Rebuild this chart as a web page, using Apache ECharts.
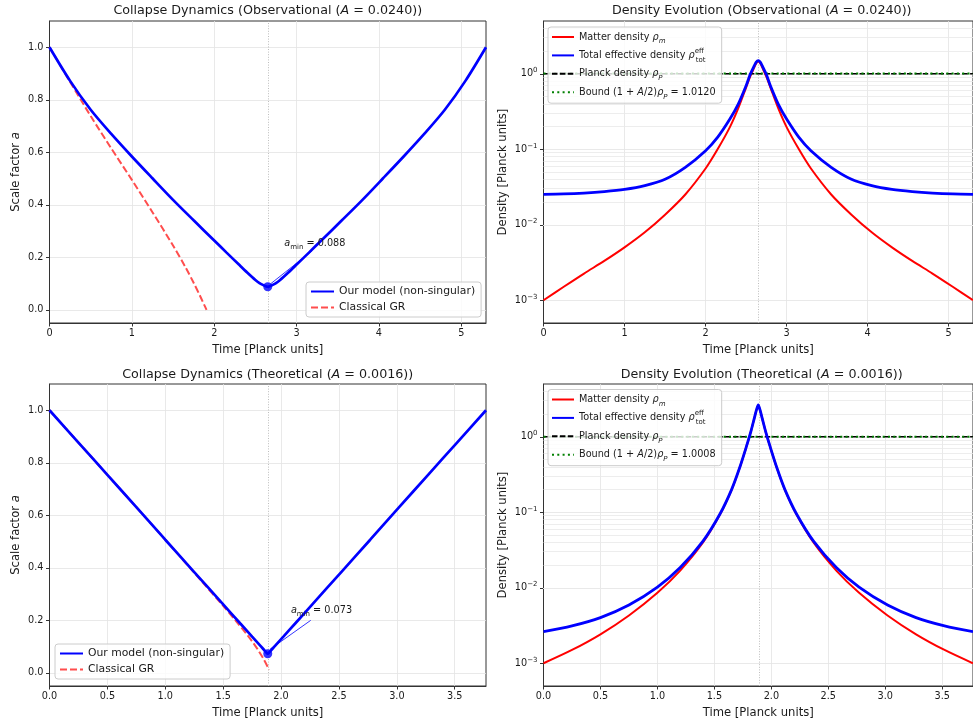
<!DOCTYPE html>
<html><head><meta charset="utf-8">
<script src="https://cdn.jsdelivr.net/npm/echarts@6/dist/echarts.min.js"></script>
<style>html,body{margin:0;padding:0;background:#fff}#c{width:973px;height:723px}</style>
</head><body><div id="c"></div>
<script>
// ---------------- data ----------------
const ATop = 0.0240, ABot = 0.0016;
const tbTop = 2.65, aMinTop = 0.088;
const tbBot = 1.885, aMinBot = 0.073;
const xMaxTop = 5.3, xMaxBot = 3.77;
const rhoP = 1.0;

const tTop = [0,0.25,0.5,0.75,1.0,1.25,1.5,1.75,2.0,2.15,2.3,2.4,2.5,2.55,2.6,2.625,2.65,2.675,2.7,2.75,2.8,2.9,3.0,3.15,3.3,3.55,3.8,4.05,4.3,4.55,4.8,5.05,5.3];
const aTop = [1.000,0.872,0.762,0.670,0.584,0.501,0.419,0.341,0.264,0.218,0.1725,0.1425,0.114,0.102,0.0935,0.0898,0.088,0.0898,0.0935,0.102,0.114,0.1425,0.1725,0.218,0.264,0.341,0.419,0.501,0.584,0.670,0.762,0.872,1.000];
const tGRTop = [0,0.25,0.5,0.75,1.0,1.25,1.5,1.65,1.75,1.83,1.88,1.907];
const aGRTop = [1.0,0.868,0.738,0.615,0.495,0.372,0.245,0.163,0.103,0.052,0.018,0.0];
const rhoMTop = [0.00100,0.00151,0.00226,0.00332,0.00502,0.00795,0.0136,0.0252,0.0556,0.1006,0.1965,0.342,0.657,0.915,1.204,1.372,1.45,1.372,1.204,0.915,0.657,0.342,0.1965,0.1006,0.0556,0.0252,0.0136,0.00795,0.00502,0.00332,0.00226,0.00151,0.00100];
const rhoEffTop = [0.0253,0.0256,0.0263,0.0275,0.0294,0.0330,0.0400,0.0575,0.0955,0.1445,0.251,0.389,0.692,0.977,1.27,1.43,1.49,1.43,1.27,0.977,0.692,0.389,0.251,0.1445,0.0955,0.0575,0.0400,0.0330,0.0294,0.0275,0.0263,0.0256,0.0253];

const tBot = [0,0.25,0.5,0.75,1.0,1.25,1.5,1.65,1.75,1.82,1.85,1.87,1.885,1.9,1.92,1.95,2.02,2.12,2.27,2.52,2.77,3.02,3.27,3.52,3.77];
const aBot = [1.0,0.877,0.754,0.631,0.507,0.384,0.261,0.187,0.138,0.104,0.089,0.079,0.0736,0.079,0.089,0.104,0.138,0.187,0.261,0.384,0.507,0.631,0.754,0.877,1.0];
const tGRBot = [0,0.5,1.0,1.3,1.5,1.6,1.7,1.75,1.8,1.85,1.897];
const aGRBot = [1.0,0.754,0.507,0.356,0.255,0.203,0.149,0.12,0.088,0.052,0.012];
const tBotD = [0,0.25,0.5,0.75,1.0,1.2,1.4,1.55,1.65,1.72,1.78,1.82,1.85,1.87,1.885,1.9,1.92,1.95,1.99,2.05,2.12,2.22,2.37,2.57,2.77,3.02,3.27,3.52,3.77];
const rhoMBot = [0.00100,0.00150,0.00242,0.0043,0.0086,0.0169,0.0398,0.0939,0.1965,0.380,0.731,1.166,1.75,2.28,2.60,2.28,1.75,1.166,0.731,0.380,0.1965,0.0939,0.0398,0.0169,0.0086,0.0043,0.00242,0.00150,0.00100];
const rhoEffBot = [0.00262,0.00312,0.00402,0.0059,0.0102,0.0185,0.0414,0.0955,0.198,0.382,0.733,1.17,1.75,2.29,2.65,2.29,1.75,1.17,0.733,0.382,0.198,0.0955,0.0414,0.0185,0.0102,0.0059,0.00402,0.00312,0.00262];

const xTicksTop = [0,1,2,3,4,5];
const xTicksBot = [0,0.5,1.0,1.5,2.0,2.5,3.0,3.5];
const yTicksA = [0,0.2,0.4,0.6,0.8,1.0];
const yTicksRho = [0.001,0.01,0.1,1];

const annTop = {text:[2.85,0.238], from:[3.19,0.225], to:[2.68,0.098]};
const annBot = {text:[2.085,0.223], from:[2.256,0.2], to:[1.905,0.09]};

// ---------------- styling / build ----------------
const FONT = 'DejaVu Sans';
const C = '#1a1a1a';
const zip = (xs, ys) => xs.map((x, i) => [x, ys[i]]);
const gridLine = {show:true, lineStyle:{color:'#e3e3e3', width:0.8}};
const spine = {show:true, onZero:false, lineStyle:{color:'#333', width:1}};
const SM = 0.3;

// minor log gridlines
const minorVals = [];
for (let e = -4; e <= 0; e++) for (let k = 2; k <= 9; k++) {
  const v = k * Math.pow(10, e);
  if (v > 0.0005 && v < 5) minorVals.push(v);
}

function xAx(gi, max, ticks, fmt) {
  return {type:'value', gridIndex:gi, min:0, max:max, interval:ticks[1]-ticks[0],
    name:'Time [Planck units]', nameLocation:'middle', nameGap:21,
    nameTextStyle:{fontFamily:FONT, fontSize:11.6, color:C},
    axisLine:spine,
    axisTick:{show:true, inside:false, length:3.5, lineStyle:{color:'#333'}, customValues:ticks},
    axisLabel:{show:true, customValues:ticks, formatter:fmt, fontFamily:FONT, fontSize:9.7, color:C, margin:5},
    splitLine:gridLine};
}
function yAxA(gi) {
  return {type:'value', gridIndex:gi, min:-0.05, max:1.1,
    name:'Scale factor {i|a}', nameLocation:'middle', nameGap:28,
    nameTextStyle:{fontFamily:FONT, fontSize:11.6, color:C, rich:{i:{fontFamily:FONT, fontSize:11.6, fontStyle:'italic', color:C}}},
    axisLine:spine,
    axisTick:{show:true, inside:false, length:3.5, lineStyle:{color:'#333'}, customValues:yTicksA},
    axisLabel:{show:true, customValues:yTicksA, formatter:v => v.toFixed(1), fontFamily:FONT, fontSize:9.7, color:C, margin:6},
    splitLine:gridLine};
}
function yAxR(gi) {
  return {type:'log', logBase:10, gridIndex:gi, min:0.0005, max:5,
    name:'Density [Planck units]', nameLocation:'middle', nameGap:35,
    nameTextStyle:{fontFamily:FONT, fontSize:11.6, color:C},
    axisLine:spine,
    axisTick:{show:true, inside:false, length:3.5, lineStyle:{color:'#333'}, customValues:yTicksRho},
    axisLabel:{show:true, customValues:yTicksRho, fontFamily:FONT, fontSize:9.7, color:C, margin:6, lineHeight:14,
      formatter:v => { const e = Math.round(Math.log10(v)); return '10{s|' + (e < 0 ? '\u2212' + (-e) : e) + '}'; },
      rich:{s:{fontFamily:FONT, fontSize:7, lineHeight:8, verticalAlign:'top', color:C}}},
    splitLine:gridLine};
}

const titleRich = {i:{fontFamily:FONT, fontSize:12.7, fontStyle:'italic', color:C}};
function title(text, cx, top) {
  return {text:text, left:cx - 5, top:top, textAlign:'center',
    textStyle:{fontFamily:FONT, fontSize:12.7, fontWeight:'normal', color:C, rich:titleRich}};
}

const legRich = {
  i:{fontFamily:FONT, fontSize:9.7, fontStyle:'italic', color:C, lineHeight:16},
  isub:{fontFamily:FONT, fontSize:7, fontStyle:'italic', color:C, lineHeight:8, verticalAlign:'bottom'},
  sup:{fontFamily:FONT, fontSize:7, color:C, lineHeight:8, verticalAlign:'top', width:1},
  sub:{fontFamily:FONT, fontSize:7, color:C, lineHeight:8, verticalAlign:'bottom'}
};
const legNames = {
  'Matter density':'Matter density {i|\u03c1}{isub|m}',
  'Total effective density':'Total effective density {i|\u03c1}{sup|eff}{sub|tot}',
  'Planck density':'Planck density {i|\u03c1}{isub|P}',
  'BoundTop':'Bound (1 + {i|A}/2){i|\u03c1}{isub|P} = ' + (1 + ATop/2).toFixed(4),
  'BoundBot':'Bound (1 + {i|A}/2){i|\u03c1}{isub|P} = ' + (1 + ABot/2).toFixed(4)
};
const noSym = {opacity:0, color:'rgba(0,0,0,0)', borderWidth:0};
function legA(left, top) {
  return {data:['Our model (non-singular)','Classical GR'], orient:'vertical', left:left, top:top,
    itemWidth:23, itemHeight:10, itemGap:3, padding:[3,6,3,4], selectedMode:false,
    itemStyle:noSym,
    backgroundColor:'rgba(255,255,255,0.8)', borderColor:'#cccccc', borderWidth:1, borderRadius:3,
    textStyle:{fontFamily:FONT, fontSize:10.8, color:C, lineHeight:13}};
}
function legR(left, top, bound) {
  return {data:['Matter density','Total effective density','Planck density',bound], orient:'vertical', left:left, top:top,
    itemWidth:22, itemHeight:10, itemGap:2.4, padding:[2,6,3,3], selectedMode:false,
    itemStyle:noSym,
    backgroundColor:'rgba(255,255,255,0.8)', borderColor:'#cccccc', borderWidth:1, borderRadius:3,
    formatter:n => legNames[n],
    textStyle:{fontFamily:FONT, fontSize:9.7, color:C, lineHeight:16, rich:legRich}};
}

function vline(tb) {
  return {silent:true, symbol:['none','none'], z:1, label:{show:false},
    lineStyle:{color:'#bdbdbd', width:1, type:[1,1.6]}, data:[{xAxis:tb}]};
}
function minorLines() {
  return {silent:true, symbol:['none','none'], z:1, label:{show:false}, animation:false,
    lineStyle:{color:'#e8e8e8', width:0.8, type:'solid'}, data:minorVals.map(v => ({yAxis:v}))};
}
function annotation(ann, aMin) {
  return {
    markPoint:{silent:true, symbol:'circle', symbolSize:0, z:6,
      data:[{coord:ann.text, label:{show:true, position:'right', distance:0, offset:[0,-4],
        formatter:'{i|a}{s|min} = ' + aMin.toFixed(3),
        fontFamily:FONT, fontSize:9.7, color:C,
        rich:{i:{fontFamily:FONT, fontSize:9.7, fontStyle:'italic', color:C, lineHeight:14},
              s:{fontFamily:FONT, fontSize:7, color:C, lineHeight:8, verticalAlign:'bottom'}}}}]},
    markLine:{silent:true, z:6, symbolSize:[0,6], label:{show:false},
      lineStyle:{color:'#0000ff', width:0.8, type:'solid'},
      data:[[{coord:ann.from, symbol:'none'},{coord:ann.to, symbol:'arrow'}]]}
  };
}

function scaleSeries(xi, t, a, tGR, aGR, tb, aMin, ann) {
  const ann2 = annotation(ann, aMin);
  return [
    {type:'line', name:'Our model (non-singular)', xAxisIndex:xi, yAxisIndex:xi, data:zip(t, a),
      symbol:'none', smooth:SM, z:3, lineStyle:{color:'#0000ff', width:2.7}, itemStyle:{color:'#0000ff'},
      markLine:vline(tb)},
    {type:'line', name:'Classical GR', xAxisIndex:xi, yAxisIndex:xi, data:zip(tGR, aGR),
      symbol:'none', smooth:SM, z:2, lineStyle:{color:'#ff4d4d', width:2, type:[7,3]}, itemStyle:{color:'#ff4d4d'}},
    {type:'scatter', name:'bounce', xAxisIndex:xi, yAxisIndex:xi, data:[[tb, aMin]],
      symbol:'circle', symbolSize:9, z:4, itemStyle:{color:'#0000ff'},
      markPoint:ann2.markPoint, markLine:ann2.markLine}
  ];
}
function densSeries(xi, t, rm, re, xMax, tb, boundName, boundVal) {
  return [
    {type:'line', name:'Matter density', xAxisIndex:xi, yAxisIndex:xi, data:zip(t, rm),
      symbol:'none', smooth:SM, z:2, lineStyle:{color:'#ff0000', width:2}, itemStyle:{color:'#ff0000'},
      markLine:minorLines()},
    {type:'line', name:'Total effective density', xAxisIndex:xi, yAxisIndex:xi, data:zip(t, re),
      symbol:'none', smooth:SM, z:3, lineStyle:{color:'#0000ff', width:2.8}, itemStyle:{color:'#0000ff'},
      markLine:vline(tb)},
    {type:'line', name:'Planck density', xAxisIndex:xi, yAxisIndex:xi, data:[[0, rhoP],[xMax, rhoP]],
      symbol:'none', z:2, lineStyle:{color:'#000000', width:1.5, type:[5.5,2.4]}, itemStyle:{color:'#000000'}},
    {type:'line', name:boundName, xAxisIndex:xi, yAxisIndex:xi, data:[[0, boundVal],[xMax, boundVal]],
      symbol:'none', z:2, lineStyle:{color:'#008000', width:2, type:[2,3.3]}, itemStyle:{color:'#008000'}}
  ];
}

const fmtInt = v => String(Math.round(v));
const fmt1 = v => v.toFixed(1);

const option = {
  backgroundColor:'#ffffff',
  animation:false,
  title:[
    title('Collapse Dynamics (Observational ({i|A} = ' + ATop.toFixed(4) + '))', 267.75, -1),
    title('Density Evolution (Observational ({i|A} = ' + ATop.toFixed(4) + '))', 761.75, -1),
    title('Collapse Dynamics (Theoretical ({i|A} = ' + ABot.toFixed(4) + '))', 267.75, 363.5),
    title('Density Evolution (Theoretical ({i|A} = ' + ABot.toFixed(4) + '))', 761.75, 363.5)
  ],
  grid:[
    {left:49.5, top:21, width:436.5, height:302, show:true, borderColor:'#333', borderWidth:1, backgroundColor:'#fff'},
    {left:543.5, top:21, width:436.5, height:302, show:true, borderColor:'#333', borderWidth:1, backgroundColor:'#fff'},
    {left:49.5, top:384, width:436.5, height:302, show:true, borderColor:'#333', borderWidth:1, backgroundColor:'#fff'},
    {left:543.5, top:384, width:436.5, height:302, show:true, borderColor:'#333', borderWidth:1, backgroundColor:'#fff'}
  ],
  xAxis:[
    xAx(0, xMaxTop, xTicksTop, fmtInt),
    xAx(1, xMaxTop, xTicksTop, fmtInt),
    xAx(2, xMaxBot, xTicksBot, fmt1),
    xAx(3, xMaxBot, xTicksBot, fmt1)
  ],
  yAxis:[yAxA(0), yAxR(1), yAxA(2), yAxR(3)],
  legend:[
    legA(306, 282),
    legA(55, 644),
    legR(548, 27, 'BoundTop'),
    legR(548, 389.5, 'BoundBot')
  ],
  series:[].concat(
    scaleSeries(0, tTop, aTop, tGRTop, aGRTop, tbTop, aMinTop, annTop),
    densSeries(1, tTop, rhoMTop, rhoEffTop, xMaxTop, tbTop, 'BoundTop', rhoP*(1+ATop/2)),
    scaleSeries(2, tBot, aBot, tGRBot, aGRBot, tbBot, aMinBot, annBot),
    densSeries(3, tBotD, rhoMBot, rhoEffBot, xMaxBot, tbBot, 'BoundBot', rhoP*(1+ABot/2))
  )
};

const chart = echarts.init(document.getElementById('c'), null, {renderer:'canvas', width:973, height:723});
chart.setOption(option);
</script>
</body></html>
